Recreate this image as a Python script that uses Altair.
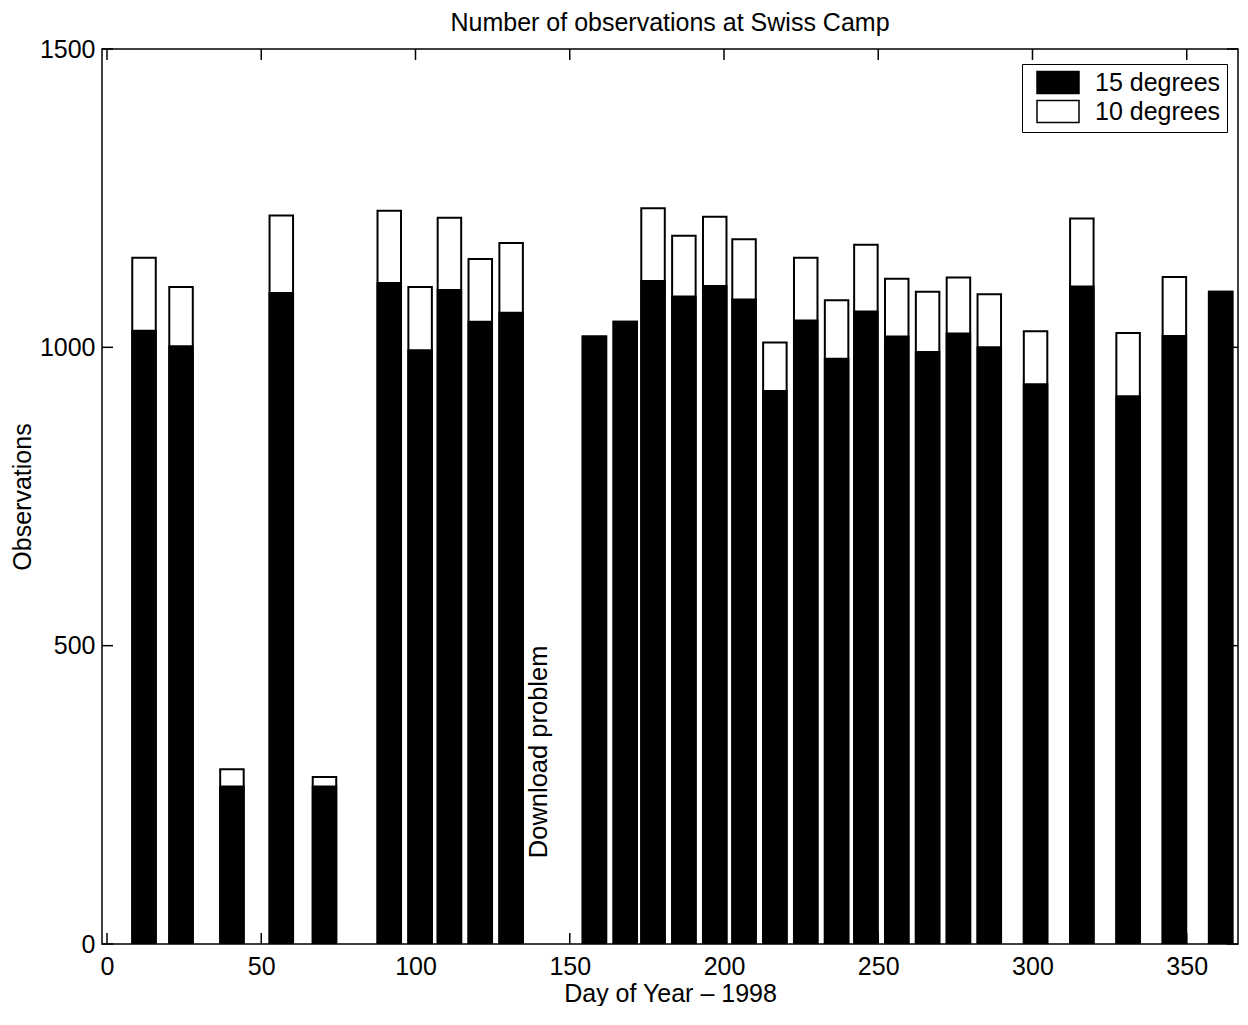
import altair as alt
import pandas as pd

# ---- data ----
days = [12, 24, 40.5, 56.5, 70.5, 91.5, 101.5, 111, 121, 131,
        158, 168, 177, 187, 197, 206.5, 216.5, 226.5, 236.5, 246,
        256, 266, 276, 286, 301, 316, 331, 346, 361]
obs_15 = [1028, 1002, 264, 1091, 264, 1108, 995, 1096, 1043, 1058,
          1018, 1043, 1111, 1085, 1103, 1080, 927, 1045, 981, 1060,
          1018, 992, 1023, 1000, 938, 1102, 918, 1019, 1093]
obs_10 = [1150, 1101, 293, 1221, 280, 1229, 1101, 1217, 1148, 1175,
          1018, 1043, 1233, 1187, 1219, 1181, 1008, 1150, 1079, 1172,
          1115, 1093, 1117, 1089, 1027, 1216, 1024, 1118, 1093]
series = ["15 degrees", "10 degrees"]
x_ticks = [0, 50, 100, 150, 200, 250, 300, 350]
y_ticks = [0, 500, 1000, 1500]
note_label = ["Download problem"]
note_day = [140]
note_obs = [322]

W, H = 1136, 895
FONT = "Liberation Sans"
FS = 25
TICK = 11

rows = []
for d, v in zip(days, obs_10):
    rows.append({"day": d, "obs": v, "series": "10 degrees"})
for d, v in zip(days, obs_15):
    rows.append({"day": d, "obs": v, "series": "15 degrees"})
bars_df = pd.DataFrame(rows)

xscale = alt.Scale(domain=[0, 365], nice=False, zero=False)
yscale = alt.Scale(domain=[0, 1500], nice=False, zero=False)

bars = alt.Chart(bars_df).mark_bar(
    stroke="black", strokeWidth=2, size=23.5, clip=True, strokeJoin="miter"
).encode(
    x=alt.X("day:Q", scale=xscale,
            axis=alt.Axis(values=x_ticks, title="Day of Year – 1998",
                          format="d", ticks=False, domain=False, grid=False,
                          labelPadding=10, titlePadding=2)),
    y=alt.Y("obs:Q", scale=yscale, stack=None,
            axis=alt.Axis(values=y_ticks, title="Observations",
                          format="d", ticks=False, domain=False, grid=False,
                          labelPadding=7, titlePadding=4)),
    color=alt.Color("series:N",
                    scale=alt.Scale(domain=series, range=["black", "white"]),
                    legend=alt.Legend(
                        title=None, orient="none", legendX=920, legendY=15,
                        direction="vertical",
                        symbolType="M-0.333,-1.05L3.667,-1.05L3.667,1.05L-0.333,1.05Z",
                        symbolSize=441, symbolStrokeColor="black",
                        symbolStrokeWidth=1.5, labelOffset=42,
                        labelFont=FONT, labelFontSize=FS, labelColor="black",
                        rowPadding=0, padding=6,
                        strokeColor="black", fillColor="white",
                        offset=0)),
    order=alt.Order("series:N", sort="ascending"),
)

xt_df = pd.DataFrame({"day": x_ticks})
yt_df = pd.DataFrame({"obs": y_ticks})
rule_kw = dict(color="black", strokeWidth=1.5)

bottom_ticks = alt.Chart(xt_df).mark_rule(**rule_kw).encode(
    x=alt.X("day:Q", scale=xscale),
    y=alt.value(H), y2=alt.value(H - TICK))
top_ticks = alt.Chart(xt_df).mark_rule(**rule_kw).encode(
    x=alt.X("day:Q", scale=xscale),
    y=alt.value(0), y2=alt.value(TICK))
left_ticks = alt.Chart(yt_df).mark_rule(**rule_kw).encode(
    y=alt.Y("obs:Q", scale=yscale),
    x=alt.value(0), x2=alt.value(TICK))
right_ticks = alt.Chart(yt_df).mark_rule(**rule_kw).encode(
    y=alt.Y("obs:Q", scale=yscale),
    x=alt.value(W), x2=alt.value(W - TICK))

note_df = pd.DataFrame({"day": note_day, "obs": note_obs, "label": note_label})
note = alt.Chart(note_df).mark_text(
    angle=270, font=FONT, fontSize=25.5, color="black",
    align="center", baseline="middle"
).encode(
    x=alt.X("day:Q", scale=xscale),
    y=alt.Y("obs:Q", scale=yscale),
    text="label:N")

chart = alt.layer(
    bars, bottom_ticks, top_ticks, left_ticks, right_ticks, note
).properties(
    width=W, height=H,
    title=alt.Title("Number of observations at Swiss Camp", font=FONT,
                    fontSize=FS, fontWeight="normal", color="black",
                    anchor="middle", frame="group", offset=1),
    padding={"left": 2, "top": 3, "right": 0, "bottom": 0},
).configure_view(
    stroke="black", strokeWidth=1.5
).configure_axis(
    labelFont=FONT, labelFontSize=FS, labelColor="black",
    titleFont=FONT, titleFontSize=FS, titleColor="black",
    titleFontWeight="normal"
).configure_legend(
    cornerRadius=0
)

chart.save("out.html", embed_options={"renderer": "svg", "actions": False})
